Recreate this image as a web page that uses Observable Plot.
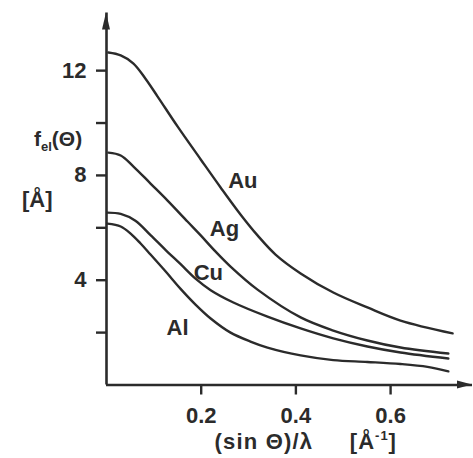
<!DOCTYPE html>
<html><head><meta charset="utf-8">
<script src="https://cdn.jsdelivr.net/npm/d3@7"></script>
<script src="https://cdn.jsdelivr.net/npm/@observablehq/plot@0.6"></script>
<style>
body{margin:0;background:#fff;}
svg{display:block;}
</style>
</head><body><div id="chart"></div>
<script>
// Curves: [sin(theta)/lambda (1/Å), f_el (Å)]
const auCurve = [[0.004,12.69],[0.030,12.58],[0.057,12.27],[0.082,11.70],[0.108,11.01],[0.150,9.87],[0.199,8.61],[0.241,7.54],[0.283,6.51],[0.319,5.71],[0.357,4.98],[0.410,4.26],[0.479,3.53],[0.551,2.96],[0.621,2.46],[0.731,1.97]];
const agCurve = [[0.004,8.87],[0.030,8.76],[0.057,8.34],[0.093,7.69],[0.129,7.04],[0.171,6.24],[0.199,5.71],[0.230,5.10],[0.262,4.52],[0.319,3.64],[0.410,2.58],[0.479,2.08],[0.551,1.70],[0.621,1.43],[0.722,1.20]];
const cuCurve = [[0.002,6.58],[0.030,6.53],[0.061,6.27],[0.093,5.72],[0.125,5.15],[0.156,4.62],[0.188,4.06],[0.220,3.62],[0.268,3.15],[0.340,2.61],[0.410,2.16],[0.479,1.78],[0.551,1.47],[0.621,1.24],[0.722,1.01]];
const alCurve = [[0.002,6.16],[0.030,6.05],[0.051,5.78],[0.072,5.40],[0.093,4.98],[0.125,4.33],[0.156,3.68],[0.188,3.07],[0.220,2.54],[0.262,2.00],[0.304,1.66],[0.340,1.43],[0.410,1.13],[0.479,0.95],[0.551,0.88],[0.621,0.80],[0.678,0.69],[0.722,0.52]];

const elements = ["Au","Ag","Cu","Al"];
const labelX = [0.288,0.249,0.215,0.150];
const labelY = [7.78,5.94,4.27,2.19];

const xTicks = [0.2,0.4,0.6];
const yTicks = [2,4,6,8,10,12];
const yTickLabels = {4:"4",8:"8",12:"12"};

const xMax = 0.773, yMax = 14.2;

const series = [["Au",auCurve],["Ag",agCurve],["Cu",cuCurve],["Al",alCurve]];
const lineData = series.flatMap(([name, pts]) => pts.map(([x,y]) => ({name, x, y})));
const labels = elements.map((e,i) => ({e, x: labelX[i], y: labelY[i]}));

const FONT = "'Liberation Sans', Arial, Helvetica, sans-serif";
const INK = "#2b2b2b";
const FS = 22;

function arrows(index, scales) {
  const g = d3.create("svg:g");
  const x0 = scales.x(0), y0 = scales.y(0);
  const xt = scales.x(xMax), yt = scales.y(yMax);
  g.append("path").attr("d", `M${x0},${yt}L${x0-4},${yt+17}L${x0+4},${yt+17}Z`).attr("fill", INK);
  g.append("path").attr("d", `M${xt},${y0}L${xt-15},${y0-4}L${xt-15},${y0+4}Z`).attr("fill", INK);
  return g.node();
}

function axisTitles(index, scales, values, dims) {
  const g = d3.create("svg:g")
    .attr("font-family", FONT).attr("font-weight", "bold").attr("font-size", FS)
    .attr("fill", INK).attr("text-anchor", "start");
  const xl = dims.marginLeft;
  // y title
  const t1 = g.append("text").attr("x", xl - 72).attr("y", 146);
  t1.append("tspan").attr("font-size", 21).text("f");
  t1.append("tspan").attr("font-size", 13).attr("dy", 5).text("el");
  t1.append("tspan").attr("font-size", 21).attr("dy", -5).text("(Θ)");
  g.append("text").attr("x", xl - 84).attr("y", 207).text("[Å]");
  // x title
  const bx = dims.height - 9;
  g.append("text").attr("x", scales.x(0.229)).attr("y", bx).attr("letter-spacing", 1.2).text("(sin Θ)/λ");
  const t2 = g.append("text").attr("x", scales.x(0.515)).attr("y", bx).attr("letter-spacing", 1);
  t2.append("tspan").text("[Å");
  t2.append("tspan").attr("font-size", 13).attr("dy", -9).text("-1");
  t2.append("tspan").attr("dy", 9).text("]");
  return g.node();
}

const chart = Plot.plot({
  width: 473,
  height: 458,
  marginLeft: 106,
  marginRight: 1,
  marginTop: 12.5,
  marginBottom: 73.5,
  style: {fontFamily: FONT, background: "#fff", color: INK},
  x: {domain: [0, xMax]},
  y: {domain: [0, yMax]},
  marks: [
    Plot.ruleY([0], {x1: 0, x2: xMax, stroke: INK, strokeWidth: 2.6}),
    Plot.ruleX([0], {y1: 0, y2: yMax, stroke: INK, strokeWidth: 2.6}),
    Plot.axisX({ticks: xTicks, tickSize: 10, tickPadding: 12, tickFormat: d => d.toFixed(1), fontSize: FS, fontWeight: "bold", strokeWidth: 2.4, label: null}),
    Plot.axisY({ticks: yTicks, tickSize: 10, tickPadding: 10, tickFormat: d => yTickLabels[d] ?? "", fontSize: FS, fontWeight: "bold", strokeWidth: 2.4, label: null}),
    Plot.line(lineData, {x: "x", y: "y", z: "name", curve: "catmull-rom", stroke: INK, strokeWidth: 2.4}),
    Plot.text(labels, {x: "x", y: "y", text: "e", fontSize: FS, fontWeight: "bold", fill: INK}),
    arrows,
    axisTitles
  ]
});
document.getElementById("chart").append(chart);
</script>
</body></html>
